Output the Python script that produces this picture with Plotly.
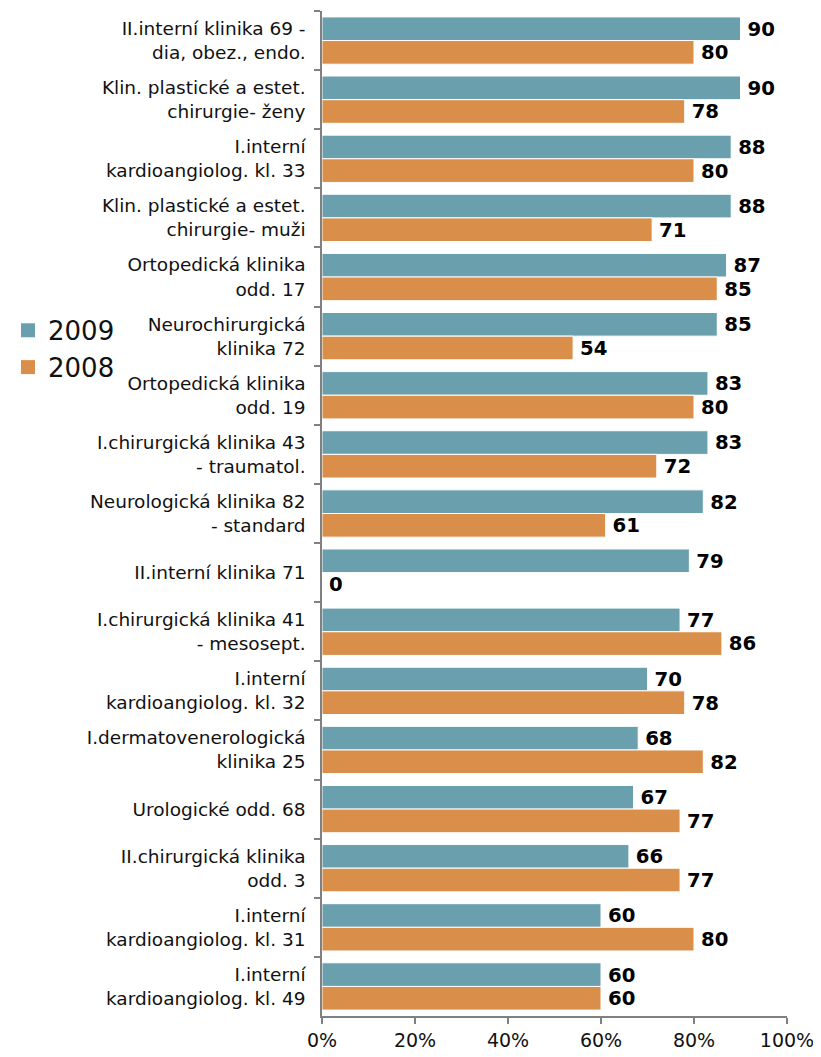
import plotly.graph_objects as go

categories = [
    "II.interní klinika 69 -<br>dia, obez., endo.",
    "Klin. plastické a estet.<br>chirurgie- ženy",
    "I.interní<br>kardioangiolog. kl. 33",
    "Klin. plastické a estet.<br>chirurgie- muži",
    "Ortopedická klinika<br>odd. 17",
    "Neurochirurgická<br>klinika 72",
    "Ortopedická klinika<br>odd. 19",
    "I.chirurgická klinika 43<br>- traumatol.",
    "Neurologická klinika 82<br>- standard",
    "II.interní klinika 71",
    "I.chirurgická klinika 41<br>- mesosept.",
    "I.interní<br>kardioangiolog. kl. 32",
    "I.dermatovenerologická<br>klinika 25",
    "Urologické odd. 68",
    "II.chirurgická klinika<br>odd. 3",
    "I.interní<br>kardioangiolog. kl. 31",
    "I.interní<br>kardioangiolog. kl. 49",
]
values_2009 = [90, 90, 88, 88, 87, 85, 83, 83, 82, 79, 77, 70, 68, 67, 66, 60, 60]
values_2008 = [80, 78, 80, 71, 85, 54, 80, 72, 61, 0, 86, 78, 82, 77, 77, 80, 60]
x_ticks = [0, 20, 40, 60, 80, 100]
x_tick_labels = ["0%", "20%", "40%", "60%", "80%", "100%"]

FONT = "DejaVu Sans, Verdana, sans-serif"
series = [("2009", values_2009, "#6A9FAD"), ("2008", values_2008, "#D98F49")]

fig = go.Figure()
for name, vals, color in series:
    fig.add_trace(go.Bar(
        name=name, y=categories, x=vals, orientation="h",
        marker=dict(color=color, line=dict(color="white", width=1)),
        text=[str(v) for v in vals], texttemplate="\u2009%{text}", textposition="outside",
        textfont=dict(family=FONT, size=20, color="black", weight="bold"),
        cliponaxis=False, showlegend=False,
    ))
# legend entries with larger square swatches
for name, vals, color in series:
    fig.add_trace(go.Scatter(
        name=name, x=[None], y=[None], mode="markers",
        marker=dict(symbol="square", size=15, color=color, line=dict(color="white", width=1)),
        showlegend=True,
    ))

fig.update_layout(
    width=813, height=1049,
    margin=dict(l=314, r=34, t=3, b=41, autoexpand=False),
    barmode="group", bargap=0.2, bargroupgap=0,
    plot_bgcolor="white", paper_bgcolor="white",
    font=dict(family=FONT, color="#111"),
    showlegend=True,
    legend=dict(
        xref="container", yref="container", x=0.0, y=0.675, yanchor="middle", xanchor="left",
        font=dict(family=FONT, size=26, color="#111"),
        itemwidth=30, tracegroupgap=0,
    ),
    xaxis=dict(
        range=[0, 100], tickmode="array", tickvals=x_ticks, ticktext=x_tick_labels,
        showgrid=False, zeroline=False,
        showline=True, linecolor="#808080", linewidth=1.5,
        ticks="outside", ticklen=6, tickcolor="#808080", tickwidth=1.5,
        tickfont=dict(family=FONT, size=19, color="#111"),
    ),
    yaxis=dict(
        autorange="reversed", showgrid=False, zeroline=False,
        showline=True, linecolor="#808080", linewidth=1.5,
        ticks="outside", ticklen=6, tickcolor="#808080", tickwidth=1.5,
        tickson="boundaries",
        tickfont=dict(family=FONT, size=18.5, color="#111"),
        ticklabelstandoff=11,
    ),
)

fig.write_html("out.html")
